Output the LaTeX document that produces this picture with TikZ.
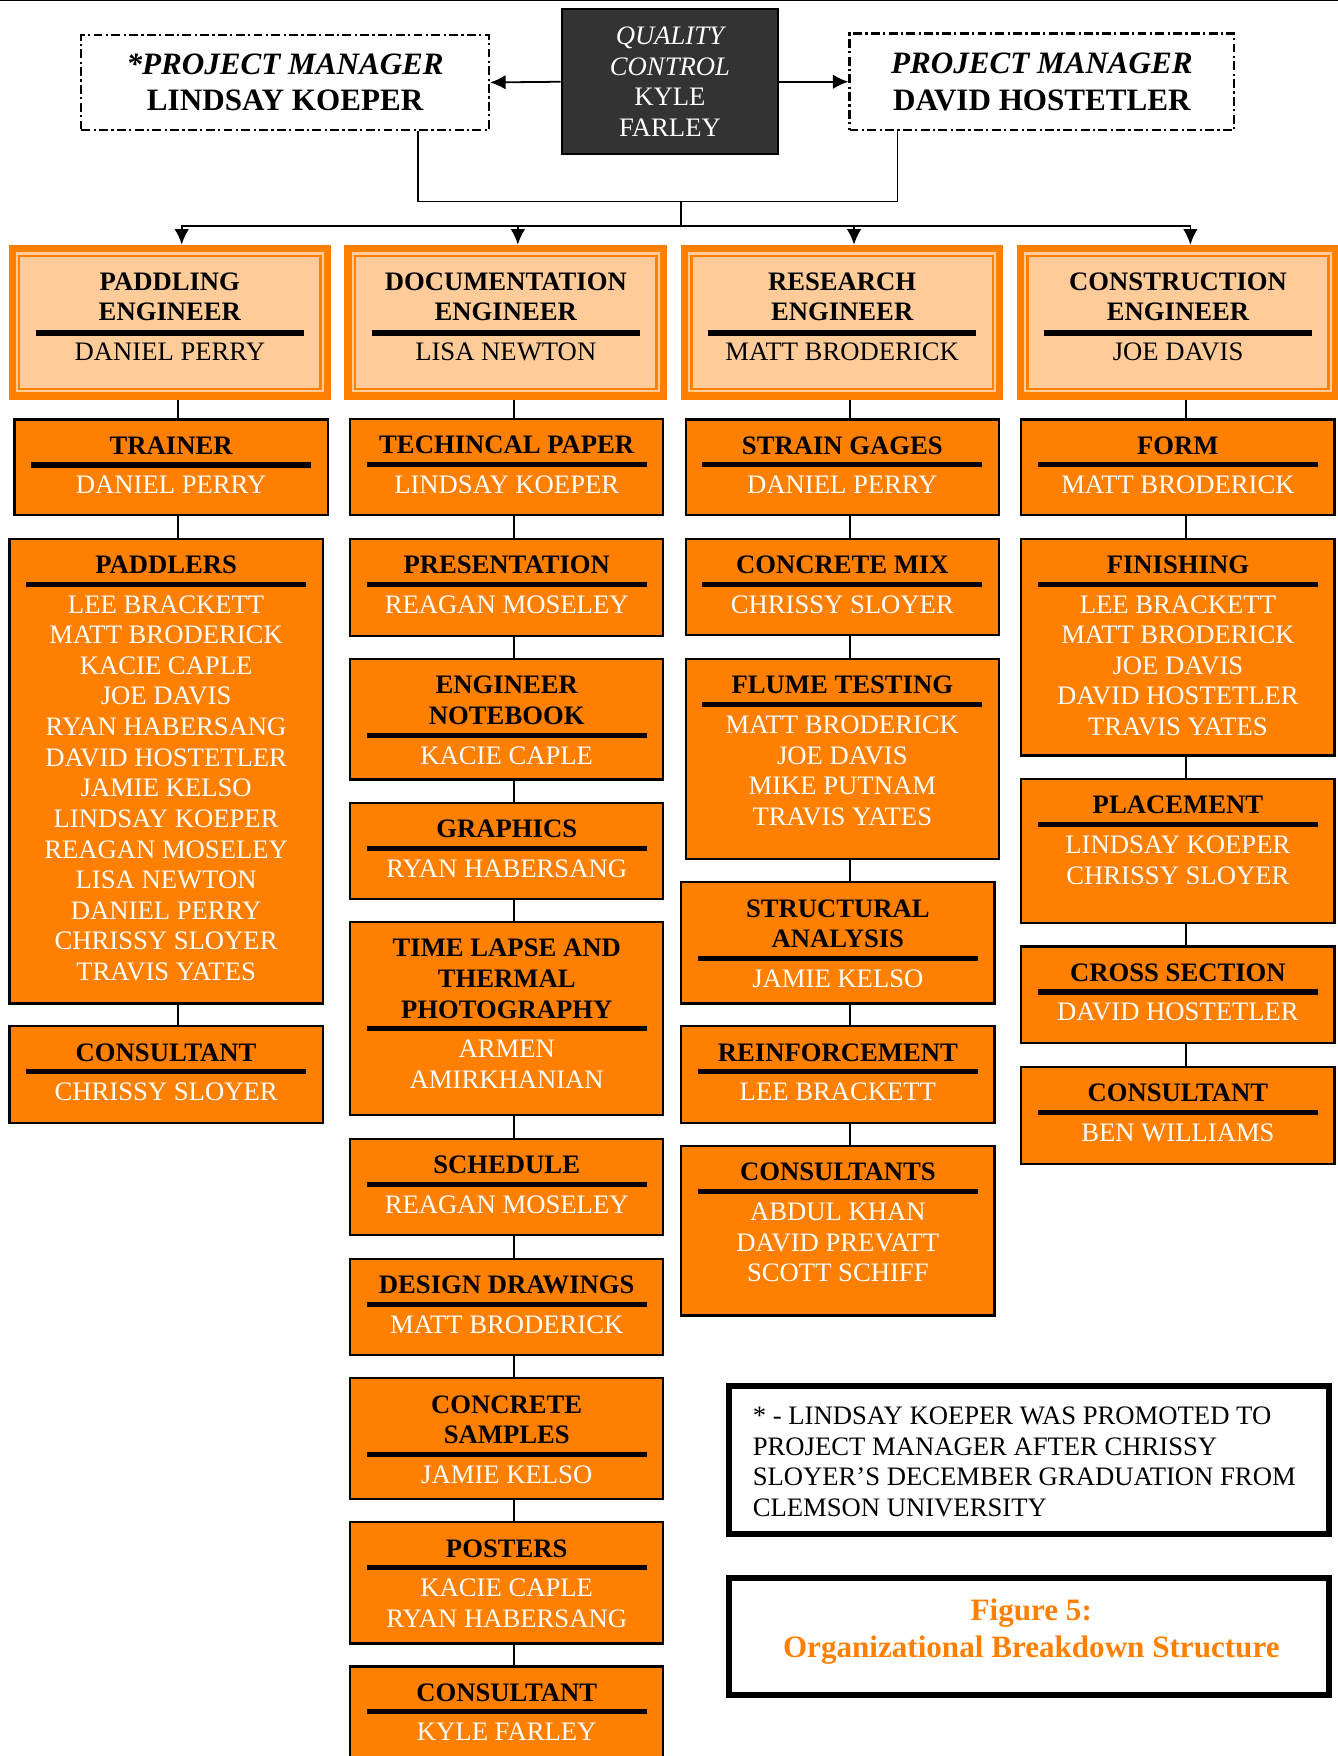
\documentclass[tikz,border=0pt]{standalone}
\usepackage{fontspec}
\setmainfont{Liberation Serif}
\usetikzlibrary{calc,arrows.meta}
\definecolor{boxorange}{RGB}{255,128,0}
\definecolor{peach}{RGB}{255,204,153}
\definecolor{qcgray}{RGB}{51,51,51}

\tikzset{
	crew/.style={draw=black, line width=1pt, fill=boxorange, minimum width=141pt, inner sep=0pt, anchor=north},
	crewtitle/.style={font=\fontsize{12}{13.78}\selectfont\bfseries, align=center, inner sep=0pt, anchor=north},
	crewnames/.style={font=\fontsize{12}{13.78}\selectfont, text=white, align=center, inner sep=0pt, anchor=north},
	crewbar/.style={line width=2.3pt},
	eng/.style={fill=boxorange, minimum width=145.2pt, minimum height=69.55pt, inner sep=0pt, anchor=north},
	engtitle/.style={crewtitle},
	engname/.style={crewnames, text=black},
	engbar/.style={line width=2.7pt},
	manager/.style={draw=black, line width=1pt, dash pattern=on 4pt off 1.5pt on 1pt off 1.5pt, fill=white, align=center, inner sep=0pt, font=\fontsize{14}{16.5}\selectfont\bfseries},
	quality/.style={draw=black, line width=1pt, fill=qcgray, text=white, align=center, inner sep=0pt, font=\fontsize{12}{13.7}\selectfont},
	link/.style={line width=0.8pt},
	feed/.style={line width=0.8pt, ->},
	notebox/.style={draw=black, line width=2.76pt, minimum width=270.2pt, inner sep=0pt},
	notetext/.style={font=\fontsize{12}{13.86}\selectfont, align=left, anchor=north west, inner sep=0pt},
	captiontext/.style={font=\fontsize{14}{16.8}\selectfont\bfseries, text=boxorange, align=center, anchor=north, inner sep=0pt}
}

% task box: name, left, top, bottom, title lines, title, names
\newcommand{\crewbox}[7]{%
	\node[crew, minimum height={(#4-#3)*0.504pt}] (#1) at (#2+140.5,#3) {};
	\node[crewtitle] (#1-title) at (#2+140.5,#3+11.8) {\rule{0pt}{10pt}#6};
	\pgfmathsetmacro{\bary}{#3+41.6+(#5-1)*27.36}
	\draw[crewbar] (#2+15,\bary) -- (#2+266,\bary);
	\node[crewnames] (#1-names) at (#2+140.5,\bary+5.6) {\rule{0pt}{10pt}#7};
}

% engineer box: name, left, title, person
\newcommand{\engbox}[4]{%
	\node[eng] (#1) at (#2+144.65,218.5) {};
	\fill[peach] ($(#1.north west)+(3.47pt,-3.47pt)$) rectangle ($(#1.south east)+(-3.47pt,3.47pt)$);
	\draw[boxorange, line width=1.08pt] ($(#1.north west)+(5.04pt,-5.04pt)$) rectangle ($(#1.south east)+(-5.04pt,5.04pt)$);
	\node[engtitle] (#1-title) at (#2+144.65,238.96) {\rule{0pt}{10pt}#3};
	\draw[engbar] (#2+24.6,297.3) -- (#2+264.7,297.3);
	\node[engname] (#1-name) at (#2+144.65,302.06) {\rule{0pt}{10pt}#4};
}

\begin{document}
\begin{tikzpicture}[x=0.50175pt, y=-0.504pt, >={Latex[length=7pt,width=6.5pt]}]
	\useasboundingbox (0,0) rectangle (1200,1568);
	\clip (0,0) rectangle (1200,1568);
	\draw[line width=0.5pt] (0,0.5) -- (1200,0.5);

	%managers
	\node[manager, minimum width=183.4pt, minimum height=42.7pt] (pmL) at (255.75,73.6) {{\itshape *PROJECT MANAGER}\\LINDSAY KOEPER};
	\node[manager, minimum width=173.1pt, minimum height=43.4pt] (pmR) at (934.5,73) {{\itshape PROJECT MANAGER}\\DAVID HOSTETLER};
	\node[quality, minimum width=97.5pt, minimum height=65.3pt] (qc) at (600.9,73) {{\itshape QUALITY}\\{\itshape CONTROL}\\KYLE\\FARLEY};
	\draw[feed] (qc.west) -- (pmL.east);
	\draw[feed] (qc.east) -- (pmR.west);

	%engineers
	\engbox{eng1}{7.7}{PADDLING\\ENGINEER}{DANIEL PERRY}
	\engbox{eng2}{309}{DOCUMENTATION\\ENGINEER}{LISA NEWTON}
	\engbox{eng3}{610.7}{RESEARCH\\ENGINEER}{MATT BRODERICK}
	\engbox{eng4}{912}{CONSTRUCTION\\ENGINEER}{JOE DAVIS}

	%manager lines
	\coordinate (dropL) at (375,0);
	\coordinate (dropR) at (805,0);
	\coordinate (join) at (610.7,180);
	\coordinate (bus) at (610.7,201.5);
	\coordinate (a1) at (163,0);
	\coordinate (a2) at (464.5,0);
	\coordinate (a3) at (766,0);
	\coordinate (a4) at (1067.7,0);
	\draw[link] (pmL.south -| dropL) |- (join) -| (pmR.south -| dropR);
	\draw[link] (join) -- (bus);
	\foreach \i in {1,...,4}
		\draw[feed] (bus) -| (a\i |- eng\i.north);

	%paddling
	\crewbox{trainer}{13}{373.6}{459}{1}{TRAINER}{DANIEL PERRY}
	\crewbox{paddlers}{8.5}{480}{895}{1}{PADDLERS}{LEE BRACKETT\\MATT BRODERICK\\KACIE CAPLE\\JOE DAVIS\\RYAN HABERSANG\\DAVID HOSTETLER\\JAMIE KELSO\\LINDSAY KOEPER\\REAGAN MOSELEY\\LISA NEWTON\\DANIEL PERRY\\CHRISSY SLOYER\\TRAVIS YATES}
	\crewbox{consult1}{8.5}{915.4}{1001.6}{1}{CONSULTANT}{CHRISSY SLOYER}

	%documentation
	\crewbox{paper}{314}{373.2}{459.2}{1}{TECHINCAL PAPER}{LINDSAY KOEPER}
	\crewbox{presentation}{314}{480}{566.6}{1}{PRESENTATION}{REAGAN MOSELEY}
	\crewbox{notebook}{314}{587.5}{695}{2}{ENGINEER\\NOTEBOOK}{KACIE CAPLE}
	\crewbox{graphics}{314}{715.8}{802}{1}{GRAPHICS}{RYAN HABERSANG}
	\crewbox{timelapse}{314}{822.4}{994.6}{3}{TIME LAPSE AND\\THERMAL\\PHOTOGRAPHY}{ARMEN\\AMIRKHANIAN}
	\crewbox{schedule}{314}{1015.8}{1102}{1}{SCHEDULE}{REAGAN MOSELEY}
	\crewbox{drawings}{314}{1123}{1209}{1}{DESIGN DRAWINGS}{MATT BRODERICK}
	\crewbox{samples}{314}{1229.8}{1337.8}{2}{CONCRETE\\SAMPLES}{JAMIE KELSO}
	\crewbox{posters}{314}{1358.3}{1466.5}{1}{POSTERS}{KACIE CAPLE\\RYAN HABERSANG}
	\crewbox{consult2}{314}{1487}{1600}{1}{CONSULTANT}{KYLE FARLEY}

	%research
	\crewbox{gages}{615}{373.5}{458.8}{1}{STRAIN GAGES}{DANIEL PERRY}
	\crewbox{mix}{615}{480}{566.3}{1}{CONCRETE MIX}{CHRISSY SLOYER}
	\crewbox{flume}{615}{587.5}{766.3}{1}{FLUME TESTING}{MATT BRODERICK\\JOE DAVIS\\MIKE PUTNAM\\TRAVIS YATES}
	\crewbox{structural}{611}{786.8}{895}{2}{STRUCTURAL\\ANALYSIS}{JAMIE KELSO}
	\crewbox{reinforcement}{611}{915.4}{1001.6}{1}{REINFORCEMENT}{LEE BRACKETT}
	\crewbox{consult3}{611}{1022.5}{1173.7}{1}{CONSULTANTS}{ABDUL KHAN\\DAVID PREVATT\\SCOTT SCHIFF}

	%construction
	\crewbox{form}{916}{373.5}{458.8}{1}{FORM}{MATT BRODERICK}
	\crewbox{finishing}{916}{480}{673.6}{1}{FINISHING}{LEE BRACKETT\\MATT BRODERICK\\JOE DAVIS\\DAVID HOSTETLER\\TRAVIS YATES}
	\crewbox{placement}{916}{694.6}{823.2}{1}{PLACEMENT}{LINDSAY KOEPER\\CHRISSY SLOYER}
	\crewbox{crosssection}{916}{844.2}{930.3}{1}{CROSS SECTION}{DAVID HOSTETLER}
	\crewbox{consult4}{916}{951.5}{1038.2}{1}{CONSULTANT}{BEN WILLIAMS}

	%column lines
	\coordinate (c1) at (159.5,0);
	\coordinate (c2) at (461,0);
	\coordinate (c3) at (762.5,0);
	\coordinate (c4) at (1064,0);
	\foreach \a/\b in {eng1/trainer,trainer/paddlers,paddlers/consult1}
		\draw[link] (\a.south -| c1) -- (\b.north -| c1);
	\foreach \a/\b in {eng2/paper,paper/presentation,presentation/notebook,notebook/graphics,graphics/timelapse,timelapse/schedule,schedule/drawings,drawings/samples,samples/posters,posters/consult2}
		\draw[link] (\a.south -| c2) -- (\b.north -| c2);
	\foreach \a/\b in {eng3/gages,gages/mix,mix/flume,flume/structural,structural/reinforcement,reinforcement/consult3}
		\draw[link] (\a.south -| c3) -- (\b.north -| c3);
	\foreach \a/\b in {eng4/form,form/finishing,finishing/placement,placement/crosssection,crosssection/consult4}
		\draw[link] (\a.south -| c4) -- (\b.north -| c4);

	%note and caption
	\node[notebox, minimum height=66.5pt] (note) at (923,1303.8) {};
	\node[notetext] (note-text) at (674.8,1251.5) {\rule{0pt}{10pt}* - LINDSAY KOEPER WAS PROMOTED TO\\PROJECT MANAGER AFTER CHRISSY\\SLOYER’S DECEMBER GRADUATION FROM\\CLEMSON UNIVERSITY};
	\node[notebox, minimum height=52.7pt] (caption) at (923,1461) {};
	\node[captiontext] (caption-text) at (925,1422.9) {\rule{0pt}{12pt}Figure 5:\\Organizational Breakdown Structure};
\end{tikzpicture}
\end{document}
